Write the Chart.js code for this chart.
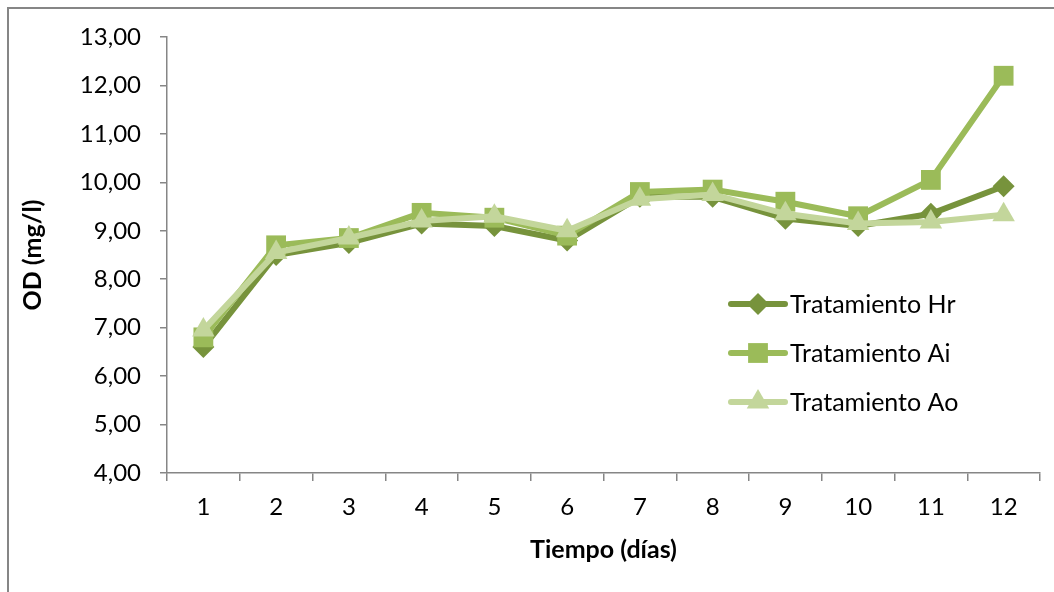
<!DOCTYPE html>
<html>
<head>
<meta charset="utf-8">
<script src="https://cdn.jsdelivr.net/npm/chart.js@4.4.1/dist/chart.umd.min.js"></script>
<style>
  html, body { margin: 0; padding: 0; background: #fff; overflow: hidden; }
  #wrap { position: relative; width: 1054px; height: 592px; }
  #frame {
    position: absolute; left: 7px; top: 7px; width: 1100px; height: 700px;
    border-left: 2px solid #868686; border-top: 2px solid #868686;
  }
  #chartOD { position: absolute; left: 0; top: 0; }
</style>
</head>
<body>
<div id="wrap">
  <div id="frame"></div>
  <canvas id="chartOD" width="1054" height="592"></canvas>
</div>
<script>
const dias = ['1', '2', '3', '4', '5', '6', '7', '8', '9', '10', '11', '12'];
const tratamientoHr = [6.60, 8.50, 8.75, 9.15, 9.10, 8.80, 9.70, 9.70, 9.25, 9.10, 9.35, 9.92];
const tratamientoAi = [6.80, 8.70, 8.85, 9.37, 9.27, 8.90, 9.80, 9.85, 9.60, 9.30, 10.05, 12.20];
const tratamientoAo = [6.95, 8.55, 8.85, 9.20, 9.30, 9.00, 9.65, 9.75, 9.35, 9.15, 9.18, 9.33];
const nombres = ['Tratamiento Hr', 'Tratamiento Ai', 'Tratamiento Ao'];

const FONT = 'Lato, "Open Sans", sans-serif';
const AXIS = '#868686';

// legend drawn as a vertical list: line sample with the marker on top
const legendaLateral = {
  id: 'legendaLateral',
  afterDraw(chart) {
    const ctx = chart.ctx;
    const x0 = 731, x1 = 785, xt = 790, y0 = 304, dy = 49;
    chart.data.datasets.forEach((ds, i) => {
      const y = y0 + i * dy;
      ctx.save();
      ctx.strokeStyle = ds.borderColor;
      ctx.lineWidth = ds.borderWidth;
      ctx.lineCap = 'round';
      ctx.beginPath();
      ctx.moveTo(x0, y);
      ctx.lineTo(x1, y);
      ctx.stroke();
      ctx.fillStyle = ds.pointBackgroundColor;
      ctx.strokeStyle = ds.pointBackgroundColor;
      Chart.helpers.drawPoint(ctx, {
        pointStyle: ds.pointStyle,
        radius: ds.pointRadius,
        rotation: 0,
        borderWidth: 0
      }, (x0 + x1) / 2, y);
      ctx.fillStyle = '#000';
      ctx.font = '25px ' + FONT;
      ctx.textBaseline = 'middle';
      ctx.fillText(ds.label, xt, y + 1);
      ctx.restore();
    });
  }
};

new Chart(document.getElementById('chartOD').getContext('2d'), {
  type: 'line',
  data: {
    labels: dias,
    datasets: [
      {
        label: nombres[0],
        data: tratamientoHr,
        borderColor: '#77933C',
        pointBackgroundColor: '#77933C',
        pointBorderColor: '#77933C',
        borderWidth: 6,
        pointStyle: 'rectRot',
        pointRadius: 11,
        pointBorderWidth: 0,
        order: 3
      },
      {
        label: nombres[1],
        data: tratamientoAi,
        borderColor: '#9BBB59',
        pointBackgroundColor: '#9BBB59',
        pointBorderColor: '#9BBB59',
        borderWidth: 6,
        pointStyle: 'rect',
        pointRadius: 14,
        pointBorderWidth: 0,
        order: 2
      },
      {
        label: nombres[2],
        data: tratamientoAo,
        borderColor: '#C3D69B',
        pointBackgroundColor: '#C3D69B',
        pointBorderColor: '#C3D69B',
        borderWidth: 6,
        pointStyle: 'triangle',
        pointRadius: 13,
        pointBorderWidth: 0,
        order: 1
      }
    ]
  },
  options: {
    responsive: false,
    animation: false,
    layout: { padding: { left: 18, top: 37, right: 14, bottom: 27 } },
    plugins: {
      legend: { display: false },
      tooltip: { enabled: false }
    },
    elements: { line: { tension: 0 } },
    scales: {
      x: {
        offset: true,
        border: { color: AXIS, width: 1.5 },
        grid: { offset: true, drawOnChartArea: false, drawTicks: true, tickLength: 8, color: AXIS, lineWidth: 1.5 },
        ticks: { color: '#000', font: { family: FONT, size: 24 }, padding: 12, maxRotation: 0 },
        title: {
          display: true, text: 'Tiempo (días)', color: '#000',
          font: { family: FONT, size: 25, weight: 'bold' }, padding: { top: 0, bottom: 0 }
        },
        afterFit(scale) { scale.height = 92; }
      },
      y: {
        min: 4,
        max: 13,
        border: { color: AXIS, width: 1.5 },
        grid: { drawOnChartArea: false, drawTicks: true, tickLength: 7, color: AXIS, lineWidth: 1.5 },
        ticks: {
          stepSize: 1, color: '#000', font: { family: FONT, size: 24 }, padding: 19,
          callback: v => v.toFixed(2).replace('.', ',')
        },
        title: {
          display: true, text: 'OD (mg/l)', color: '#000',
          font: { family: FONT, size: 25, weight: 'bold' }, padding: { top: 0, bottom: 0 }
        },
        afterFit(scale) { scale.width = 149; }
      }
    }
  },
  plugins: [legendaLateral]
});
</script>
</body>
</html>
